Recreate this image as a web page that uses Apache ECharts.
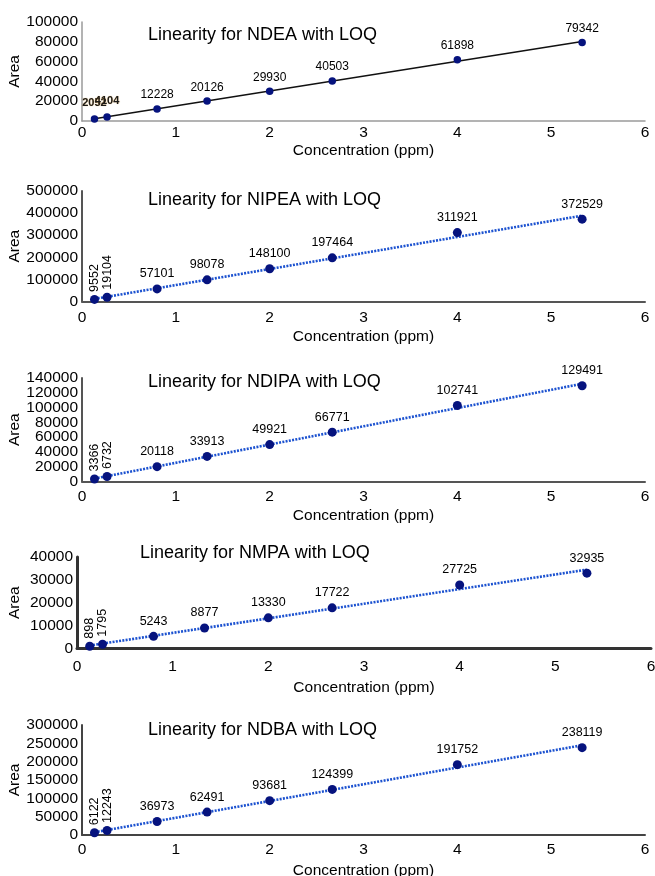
<!DOCTYPE html>
<html>
<head>
<meta charset="utf-8">
<script src="https://cdn.jsdelivr.net/npm/echarts@6/dist/echarts.min.js"></script>
<style>
html,body{margin:0;padding:0;background:#fff;}
#chart{width:655px;height:876px;}
</style>
</head>
<body>
<div id="chart"></div>
<script>
// ---- data ----
const concentration = [0.133, 0.267, 0.8, 1.333, 2, 2.667, 4, 5.33];
const titles = [
  'Linearity for NDEA with LOQ',
  'Linearity for NIPEA with LOQ',
  'Linearity for NDIPA with LOQ',
  'Linearity for NMPA with LOQ',
  'Linearity for NDBA with LOQ'
];
const ndea  = [2052, 4104, 12228, 20126, 29930, 40503, 61898, 79342];
const nipea = [9552, 19104, 57101, 98078, 148100, 197464, 311921, 372529];
const ndipa = [3366, 6732, 20118, 33913, 49921, 66771, 102741, 129491];
const nmpa  = [898, 1795, 5243, 8877, 13330, 17722, 27725, 32935];
const ndba  = [6122, 12243, 36973, 62491, 93681, 124399, 191752, 238119];
const seriesValues = [ndea, nipea, ndipa, nmpa, ndba];
const yMax = [100000, 500000, 140000, 40000, 300000];
const yInterval = [20000, 100000, 20000, 10000, 50000];
const xTicks = [0, 1, 2, 3, 4, 5, 6];

// ---- layout (pixels) ----
const layout = [
  {top: 22,  bottom: 121,   left: 82, right: 645, titleTop: 26,  titleLeft: 148, axisColor: '#9a9a9a', axisWidth: 1.5, xMargin: 4,  xGap: 22, yGap: 59},
  {top: 191, bottom: 301.5, left: 82, right: 645, titleTop: 191, titleLeft: 148, axisColor: '#555555', axisWidth: 2,   xMargin: 8,  xGap: 27, yGap: 59},
  {top: 378, bottom: 481.5, left: 82, right: 645, titleTop: 373, titleLeft: 148, axisColor: '#555555', axisWidth: 2,   xMargin: 7.5,xGap: 26, yGap: 59},
  {top: 557, bottom: 648.3, left: 77, right: 651, titleTop: 544, titleLeft: 140, axisColor: '#333333', axisWidth: 3,   xMargin: 10, xGap: 31, yGap: 54},
  {top: 725, bottom: 835,   left: 82, right: 645, titleTop: 721, titleLeft: 148, axisColor: '#444444', axisWidth: 2,   xMargin: 7,  xGap: 28, yGap: 59}
];

const FONT = '"Liberation Sans", Arial, Helvetica, sans-serif';
const pointColor = '#06137e';

function regression(xs, ys) {
  const n = xs.length;
  let sx = 0, sy = 0, sxx = 0, sxy = 0;
  for (let i = 0; i < n; i++) { sx += xs[i]; sy += ys[i]; sxx += xs[i]*xs[i]; sxy += xs[i]*ys[i]; }
  const b = (n*sxy - sx*sy) / (n*sxx - sx*sx);
  const a = (sy - b*sx) / n;
  return {a, b};
}

const option = {
  animation: false,
  backgroundColor: '#ffffff',
  title: [], grid: [], xAxis: [], yAxis: [], series: []
};

const extraY = [];

layout.forEach((L, i) => {
  option.title.push({
    text: titles[i], left: L.titleLeft, top: L.titleTop, padding: 0,
    textStyle: {fontFamily: FONT, fontSize: 18, fontWeight: 'normal', color: '#000'}
  });
  option.grid.push({
    left: L.left, top: L.top, width: L.right - L.left, height: L.bottom - L.top,
    containLabel: false, outerBoundsMode: 'none'
  });
  option.xAxis.push({
    type: 'value', gridIndex: i, min: 0, max: 6, interval: 1,
    name: 'Concentration (ppm)', nameLocation: 'middle', nameGap: L.xGap,
    nameMoveOverlap: false,
    nameTextStyle: {fontFamily: FONT, fontSize: 15.5, color: '#000', verticalAlign: 'top'},
    axisLine: {show: true, onZero: false, lineStyle: {color: L.axisColor, width: L.axisWidth}},
    axisTick: {show: false}, splitLine: {show: false},
    axisLabel: {fontFamily: FONT, fontSize: 15.5, color: '#000', margin: L.xMargin,
      showMinLabel: true, showMaxLabel: true, hideOverlap: false,
      formatter: v => xTicks.includes(v) ? String(v) : ''}
  });
  const step = yInterval[i];
  const labelStyle = {fontFamily: FONT, fontSize: 15.5, color: '#000', margin: 4,
      showMinLabel: true, showMaxLabel: true, hideOverlap: false};
  // main axis: even tick labels
  option.yAxis.push({
    type: 'value', gridIndex: i, min: 0, max: yMax[i], interval: step,
    name: 'Area', nameLocation: 'middle', nameGap: L.yGap, nameRotate: 90,
    nameMoveOverlap: false,
    nameTextStyle: {fontFamily: FONT, fontSize: 15.5, color: '#000'},
    axisLine: {show: true, onZero: false, lineStyle: {color: L.axisColor, width: L.axisWidth}},
    axisTick: {show: false}, splitLine: {show: false},
    axisLabel: Object.assign({}, labelStyle, {
      formatter: v => (Math.round(v / step) % 2 === 0) ? String(v) : ''})
  });
  // companion axis: odd tick labels (avoids label overlap hiding)
  extraY.push({
    type: 'value', gridIndex: i, min: 0, max: yMax[i], interval: step, position: 'left',
    axisLine: {show: false}, axisTick: {show: false}, splitLine: {show: false},
    axisLabel: Object.assign({}, labelStyle, {
      formatter: v => (Math.round(v / step) % 2 === 1) ? String(v) : ''})
  });

  const vals = seriesValues[i];
  const reg = regression(concentration, vals);
  const x0 = concentration[0], x1 = concentration[concentration.length - 1];
  option.series.push({
    type: 'line', xAxisIndex: i, yAxisIndex: i, symbol: 'none', silent: true,
    data: [[x0, reg.a + reg.b*x0], [x1, reg.a + reg.b*x1]],
    lineStyle: i === 0 ? {color: '#111', width: 1.5, type: 'solid'}
                       : {color: '#1c52d0', width: 2.6, type: [2, 1.3]},
    z: 2
  });

  const pts = vals.map((v, k) => {
    const d = {value: [concentration[k], v]};
    if (k < 2) {
      if (i === 0) {
        d.label = {fontWeight: 'bold', fontSize: 11, color: '#1a1a1a', distance: 7,
                   textShadowColor: 'rgba(220,150,40,0.7)', textShadowBlur: 1};
      } else {
        d.label = {rotate: 90, align: 'left', verticalAlign: 'middle', distance: 3};
      }
    }
    return d;
  });
  option.series.push({
    type: 'scatter', xAxisIndex: i, yAxisIndex: i,
    symbol: 'circle', symbolSize: i === 0 ? 7.5 : 9,
    itemStyle: {color: pointColor, opacity: 1},
    data: pts,
    label: {show: true, position: 'top', distance: 4, fontFamily: FONT,
            fontSize: i === 0 ? 12 : 12.5, color: '#000',
            formatter: p => String(p.value[1])},
    z: 3
  });
});
option.yAxis = option.yAxis.concat(extraY);

const chart = echarts.init(document.getElementById('chart'), null, {renderer: 'canvas'});
chart.setOption(option);
</script>
</body>
</html>
